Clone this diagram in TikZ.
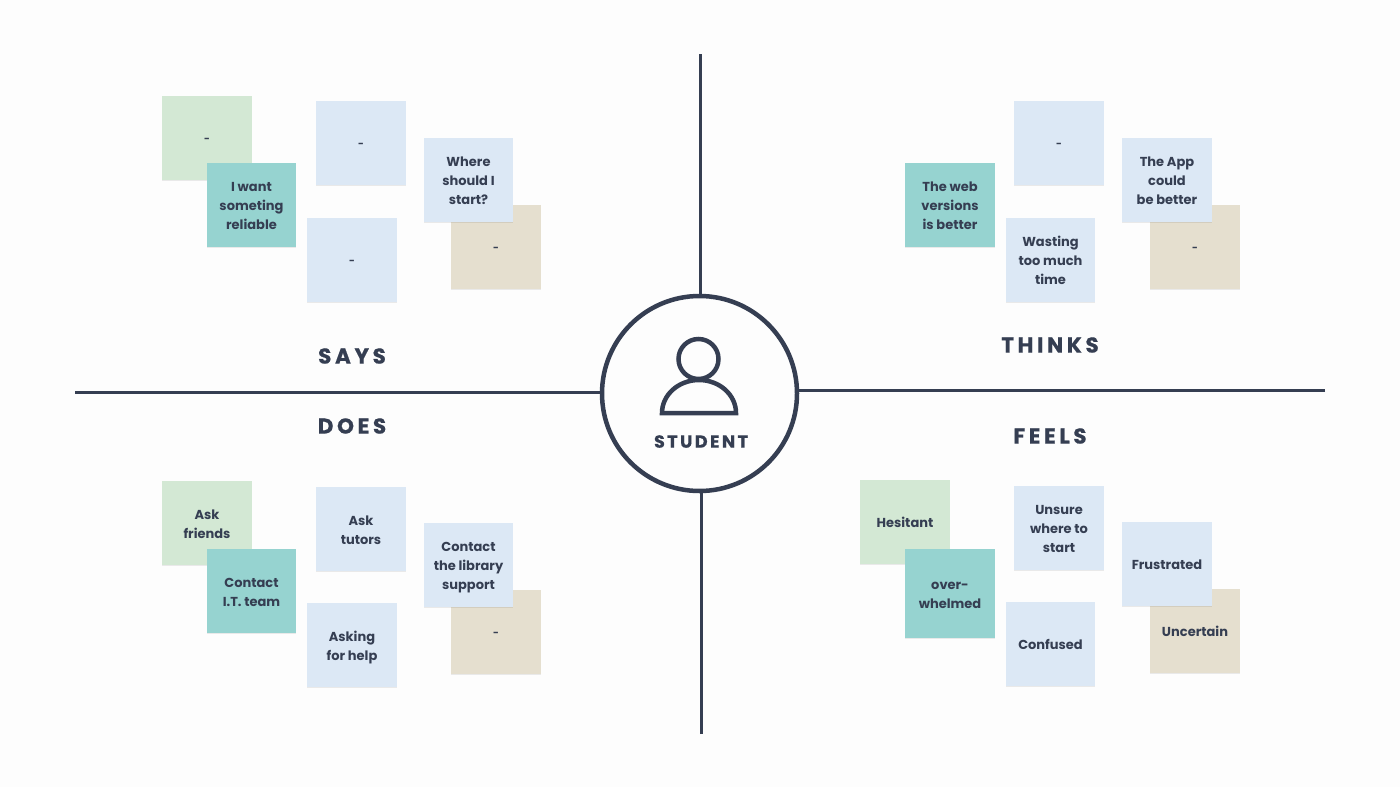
\documentclass[tikz,border=0pt]{standalone}
\usepackage{fontspec}
\setmainfont{Poppins}
\newfontfamily\headfont[LetterSpace=17,FakeBold=0.6]{Poppins}
\newfontfamily\whofont[LetterSpace=14,FakeBold=0.6]{Poppins}
\usetikzlibrary{shadows}
\definecolor{ink}{HTML}{353E52}
\definecolor{bgc}{HTML}{FDFDFD}
\definecolor{greennote}{HTML}{D3E8D4}
\definecolor{tealnote}{HTML}{96D3D0}
\definecolor{bluenote}{HTML}{DCE8F5}
\definecolor{tannote}{HTML}{E5DFCF}
\newcommand{\blank}{{\fontsize{10}{10}\selectfont\raisebox{1pt}{-}}}
\tikzset{
  note/.style={minimum width=89.5pt,minimum height=83.5pt,inner sep=0pt,align=center,text=ink,
    font=\fontsize{13}{19}\selectfont\bfseries,text height=11.2pt,text depth=0pt,
    drop shadow={opacity=.08,shadow xshift=0pt,shadow yshift=-1pt,fill=black}},
  twolines/.style={text height=30.2pt},
  threelines/.style={text height=49.2pt},
  gnote/.style={note,fill=greennote},
  tnote/.style={note,fill=tealnote},
  bnote/.style={note,fill=bluenote},
  cnote/.style={note,fill=tannote},
  axis/.style={draw=ink,line width=3pt},
  heading/.style={text=ink,inner sep=0pt,font=\fontsize{21.5}{24}\selectfont\headfont\bfseries},
}
\begin{document}
\begin{tikzpicture}[x=1pt,y=-1pt]
\path[use as bounding box,fill=bgc] (0,0) rectangle (1400,787);
% says
\node[gnote] (s1) at (207,138) {\blank};
\node[tnote,threelines] (s2) at (251.5,205) {I want\\someting\\reliable};
\node[bnote] (s3) at (361,143) {\blank};
\node[bnote] (s4) at (352,260) {\blank};
\node[cnote] (s5) at (496,247) {\blank};
\node[bnote,threelines] (s6) at (468.5,180) {Where\\should I\\start?};
% thinks
\node[tnote,threelines] (t1) at (950,205) {The web\\versions\\is better};
\node[bnote] (t2) at (1059,143) {\blank};
\node[bnote,threelines] (t3) at (1050.5,260) {Wasting\\too much\\time};
\node[cnote] (t4) at (1195,247) {\blank};
\node[bnote,threelines] (t5) at (1167,180) {The App\\could\\be better};
% does
\node[gnote,twolines] (d1) at (207,523) {Ask\\friends};
\node[tnote,twolines] (d2) at (251.5,591) {Contact\\I.T. team};
\node[bnote,twolines] (d3) at (361,529) {Ask\\tutors};
\node[bnote,twolines] (d4) at (352,645) {Asking\\for help};
\node[cnote] (d5) at (496,632) {\blank};
\node[bnote,threelines] (d6) at (468.5,565) {Contact\\the library\\support};
% feels
\node[gnote] (f1) at (905,522) {Hesitant};
\node[tnote,twolines,minimum height=89pt] (f2) at (950,593.5) {over-\\whelmed};
\node[bnote,threelines] (f3) at (1059,528) {Unsure\\where to\\start};
\node[bnote] (f4) at (1050.5,644) {Confused};
\node[cnote] (f5) at (1195,631) {Uncertain};
\node[bnote] (f6) at (1167,564) {Frustrated};
% headings
\node[heading] (h1) at (352,356) {SAYS};
\node[heading] (h2) at (1050,345) {THINKS};
\node[heading] (h3) at (352,426) {DOES};
\node[heading] (h4) at (1050,436) {FEELS};
% axes
\node[circle,draw=ink,line width=4.5pt,minimum size=195pt,inner sep=0pt] (hub) at (699.5,393.5) {};
\coordinate (topEnd) at (700,54);
\coordinate (bottomEnd) at (701,734);
\coordinate (leftEnd) at (75,392);
\coordinate (rightEnd) at (1325,390);
\draw[axis] (topEnd) -- (topEnd |- hub.north);
\draw[axis] (bottomEnd) -- (bottomEnd |- hub.south);
\draw[axis] (leftEnd) -- (hub.west |- leftEnd);
\draw[axis] (rightEnd) -- (hub.east |- rightEnd);
% person icon
\draw[draw=ink,line width=4.5pt] (698.5,359) circle (20pt);
\draw[draw=ink,line width=4.5pt,line join=miter] (662,413) arc[start angle=180,end angle=0,x radius=37pt,y radius=33pt] -- cycle;
\node[text=ink,inner sep=0pt,font=\fontsize{17.5}{20}\selectfont\whofont\bfseries] (who) at (701,441.5) {STUDENT};
\end{tikzpicture}
\end{document}
